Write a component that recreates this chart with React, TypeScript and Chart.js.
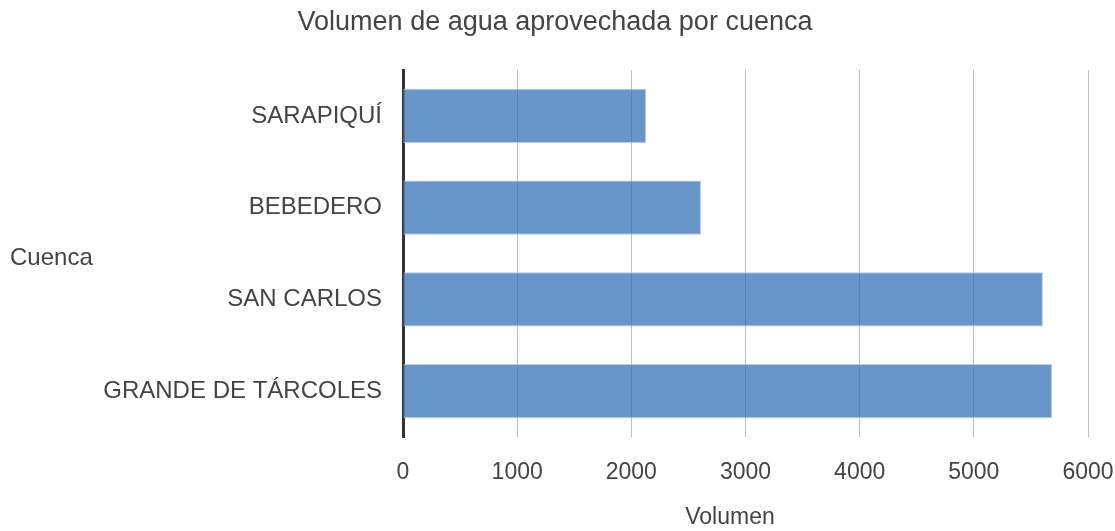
import React, { useEffect, useRef } from "react";
import { Chart, registerables } from "chart.js";

Chart.register(...registerables);

const categories = ["SARAPIQUÍ", "BEBEDERO", "SAN CARLOS", "GRANDE DE TÁRCOLES"];
const volumes = [2130, 2610, 5605, 5685];
const xTicks = [0, 1000, 2000, 3000, 4000, 5000, 6000];
const chartTitle = "Volumen de agua aprovechada por cuenca";
const yTitle = "Cuenca";
const xTitle = "Volumen";

const FONT = "'Liberation Sans', Arial, sans-serif";
const TEXT = "#444444";

export default function App() {
  const ref = useRef<HTMLCanvasElement | null>(null);
  useEffect(() => {
    if (!ref.current) return;
    const titles = {
      id: "titles",
      afterDraw(chart: any) {
        const ctx = chart.ctx;
        ctx.save();
        ctx.fillStyle = TEXT;
        ctx.textBaseline = "middle";
        ctx.font = `27px ${FONT}`;
        ctx.textAlign = "center";
        ctx.fillText(chartTitle, 555, 23);
        ctx.font = `23px ${FONT}`;
        ctx.fillText(xTitle, 730, 518);
        ctx.font = `24px ${FONT}`;
        ctx.textAlign = "left";
        ctx.fillText(yTitle, 10, 258);
        ctx.restore();
      },
    };
    const chart = new Chart(ref.current, {
      type: "bar",
      data: {
        labels: categories,
        datasets: [
          {
            data: volumes,
            backgroundColor: "rgba(52,113,184,0.74)",
            borderColor: "rgba(170,198,235,0.9)",
            borderWidth: 1,
            borderSkipped: false,
            barPercentage: 0.59,
            categoryPercentage: 1,
          },
        ],
      },
      options: {
        indexAxis: "y",
        responsive: false,
        animation: false,
        devicePixelRatio: 1,
        layout: { padding: { top: 70, right: 27, left: 0, bottom: 0 } },
        plugins: { legend: { display: false }, title: { display: false }, tooltip: { enabled: false } },
        scales: {
          x: {
            min: 0,
            max: 6000,
            afterBuildTicks: (s: any) => {
              s.ticks = xTicks.map((v) => ({ value: v }));
            },
            afterFit: (s: any) => {
              s.height = 94;
              s.paddingRight = 0;
              s.paddingLeft = 0;
            },
            grid: { color: "#bfbfbf", lineWidth: 1, drawTicks: false },
            border: { display: false },
            ticks: {
              color: TEXT,
              font: { family: FONT, size: 23 },
              padding: 22,
              maxRotation: 0,
              callback: (v: any) => String(v),
            },
          },
          y: {
            afterFit: (s: any) => {
              s.width = 403;
              s.paddingTop = 0;
              s.paddingBottom = 0;
            },
            grid: { display: false, drawTicks: false },
            border: { display: true, color: "#333333", width: 3 },
            ticks: { color: TEXT, font: { family: FONT, size: 24 }, padding: 21 },
          },
        },
      },
      plugins: [titles],
    });
    return () => chart.destroy();
  }, []);
  return (
    <div style={{ position: "absolute", left: 0, top: 0, width: 1115, height: 531, background: "#fff" }}>
      <canvas ref={ref} width={1115} height={531} />
    </div>
  );
}
